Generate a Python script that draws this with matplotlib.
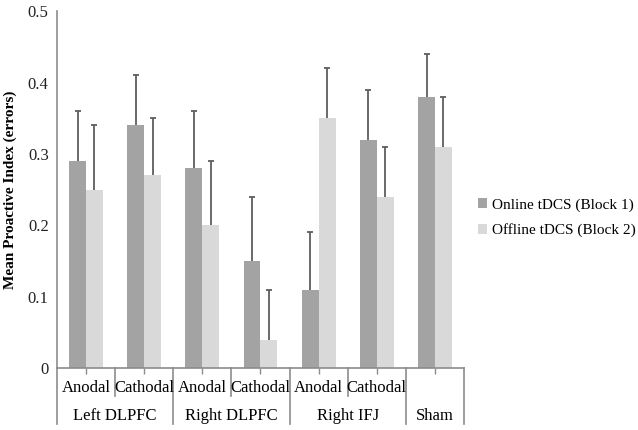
import matplotlib.pyplot as plt
import matplotlib.transforms as mtransforms
import numpy as np

# Данные
regions = ['Left DLPFC', 'Right DLPFC', 'Right IFJ', 'Sham']
conditions = ['Anodal', 'Cathodal', 'Anodal', 'Cathodal', 'Anodal', 'Cathodal', '']
region_span = [2, 2, 2, 1]
online = [0.29, 0.34, 0.28, 0.15, 0.11, 0.32, 0.38]
online_err = [0.07, 0.07, 0.08, 0.09, 0.08, 0.07, 0.06]
offline = [0.25, 0.27, 0.20, 0.04, 0.35, 0.24, 0.31]
offline_err = [0.09, 0.08, 0.09, 0.07, 0.07, 0.07, 0.07]
series_names = ['Online tDCS (Block 1)', 'Offline tDCS (Block 2)']

plt.rcParams['font.family'] = ['Liberation Serif', 'DejaVu Serif']

fig = plt.figure(figsize=(6.38, 4.30), dpi=100)
ax = fig.add_axes([0.0893, 0.144, 0.638, 0.830])

x = np.arange(len(online)) + 0.5
w = 0.29
c_dark, c_light, c_line = '#a3a3a3', '#d9d9d9', '#8c8c8c'
ecol = '#5e5e5e'

ax.bar(x - w / 2, online, w, color=c_dark, label=series_names[0], zorder=2)
ax.bar(x + w / 2, offline, w, color=c_light, label=series_names[1], zorder=2)

# Только верхние "усы" погрешности
for xs, vals, errs in [(x - w / 2, online, online_err), (x + w / 2, offline, offline_err)]:
    tops = np.array(vals) + np.array(errs)
    ax.vlines(xs, vals, tops, color=ecol, lw=1.3, zorder=3)
    ax.plot(xs, tops, ls='none', marker='_', ms=5, mew=1.3, color=ecol, zorder=3)

ax.set_xlim(0, len(online))
ax.set_ylim(0, 0.5)
ax.set_yticks([0, 0.1, 0.2, 0.3, 0.4, 0.5])
ax.set_yticklabels(['0', '0.1', '0.2', '0.3', '0.4', '0.5'], fontsize=12)
ax.tick_params(axis='y', length=0, pad=6, colors='#222222')
ax.set_xticks(x)
ax.set_xticklabels([])
ax.tick_params(axis='x', length=4, color=c_line, width=1)
ax.set_ylabel('Mean Proactive Index (errors)', fontsize=11, fontweight='bold', labelpad=8)

for s in ['top', 'right']:
    ax.spines[s].set_visible(False)
for s in ['left', 'bottom']:
    ax.spines[s].set_color(c_line)
    ax.spines[s].set_linewidth(1.2)

# Двухуровневая подпись оси X
trans = mtransforms.blended_transform_factory(ax.transData, ax.transAxes)
short_y, long_y = -0.078, -0.157
group_edges = np.concatenate([[0], np.cumsum(region_span)])
for i in range(len(online) + 1):
    bottom = long_y if i in group_edges else short_y
    ax.plot([i, i], [0, bottom], transform=trans, color=c_line, lw=1.2, clip_on=False)
for xi, lab in zip(x, conditions):
    ax.text(xi, -0.055, lab, transform=trans, ha='center', va='center', fontsize=12)
for j, reg in enumerate(regions):
    mid = (group_edges[j] + group_edges[j + 1]) / 2
    ax.text(mid, -0.135, reg, transform=trans, ha='center', va='center', fontsize=12)

fig.legend(loc='upper left', bbox_to_anchor=(0.74, 0.553), frameon=False,
           fontsize=11, handlelength=0.6, handleheight=0.6, handletextpad=0.3,
           labelspacing=0.75, borderaxespad=0)

fig.savefig('out.png', dpi=100)
